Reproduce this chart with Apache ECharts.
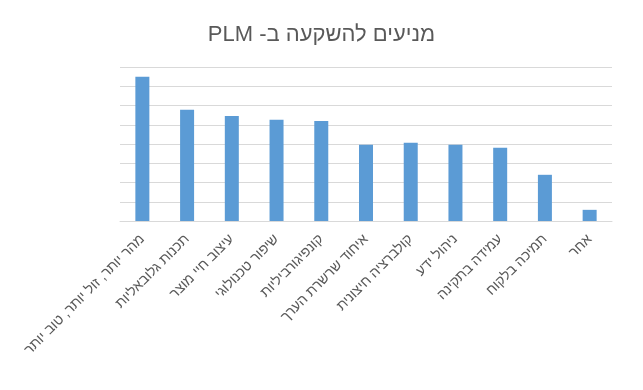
<!DOCTYPE html>
<html>
<head>
<meta charset="utf-8">
<script src="https://cdn.jsdelivr.net/npm/echarts@6/dist/echarts.min.js"></script>
<style>
html,body{margin:0;padding:0;background:#fff;}
#chart{width:643px;height:390px;direction:rtl;}
</style>
</head>
<body>
<div id="chart" dir="rtl"></div>
<script>
const titleText = 'מניעים להשקעה ב- PLM';
const categories = [
  'מהר יותר, זול יותר, טוב יותר',
  'תכנות גלובאליות',
  'עיצוב חיי מוצר',
  'שיפור טכנולוגי',
  'קונפיגורביליות',
  'איחוד שרשרת הערך',
  'קולברציה חיצונית',
  'ניהול ידע',
  'עמידה בתקינה',
  'תמיכה בלקוח',
  'אחר'
];
const values = [37.5, 28.9, 27.3, 26.3, 26.0, 19.8, 20.3, 19.8, 19.0, 12.0, 2.9];

const chart = echarts.init(document.getElementById('chart'));
chart.setOption({
  animation: false,
  title: {
    text: titleText,
    left: 'center',
    top: 19,
    textStyle: {fontFamily: 'Liberation Sans', fontSize: 22, fontWeight: 'normal', color: '#595959'}
  },
  grid: {left: 120, right: 31, top: 67, bottom: 169, containLabel: false},
  xAxis: {
    type: 'category',
    data: categories,
    axisLine: {show: true, lineStyle: {color: '#D9D9D9'}},
    axisTick: {show: false},
    axisLabel: {
      interval: 0,
      rotate: 45,
      margin: 16,
      fontFamily: 'Liberation Sans',
      fontSize: 14,
      color: '#595959'
    }
  },
  yAxis: {
    type: 'value',
    min: 0,
    max: 40,
    interval: 5,
    axisLabel: {show: false},
    axisLine: {show: false},
    axisTick: {show: false},
    splitLine: {lineStyle: {color: '#D9D9D9', width: 1}}
  },
  series: [{
    type: 'bar',
    data: values,
    barWidth: 14,
    itemStyle: {color: '#5B9BD5'}
  }]
});
</script>
</body>
</html>
